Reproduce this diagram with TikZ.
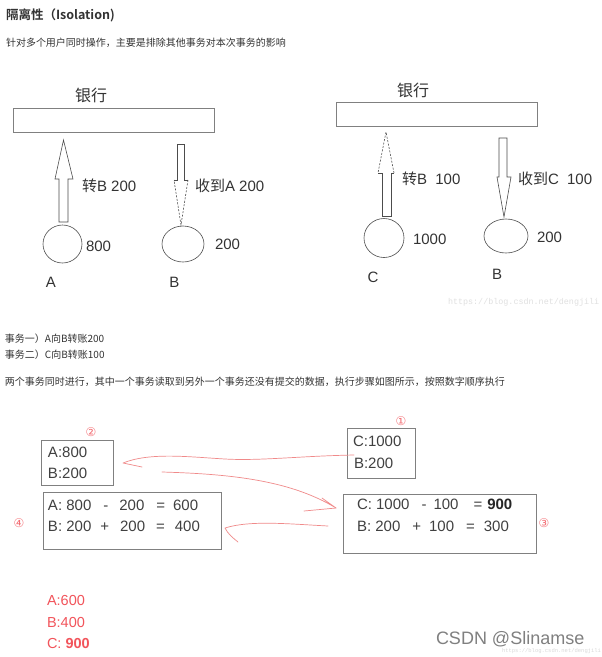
\documentclass[tikz,border=0pt]{standalone}
\usepackage{fontspec}
\setmainfont{Liberation Sans}
\newfontfamily\cjk{Noto Sans CJK SC}[BoldFont={Noto Sans CJK SC Bold}]
\newfontfamily\symf{DejaVu Sans}
\newfontfamily\monof{Liberation Mono}
\usetikzlibrary{shapes.geometric}
\newcommand\fsz[1]{\fontsize{#1}{#1}\selectfont}
\definecolor{txt}{HTML}{333333}
\definecolor{boxtxt}{HTML}{404040}
\definecolor{edge}{HTML}{808080}
\definecolor{redc}{HTML}{F2545B}
\definecolor{redline}{HTML}{F08A8A}
\begin{document}
\begin{tikzpicture}[x=1pt,y=-1pt,
  every node/.style={inner sep=0pt, outer sep=0pt, text=txt},
  lbl/.style={anchor=west},
  frame/.style={draw=edge, line width=0.8pt, anchor=north west},
  blk/.style={draw=black!70, line width=0.6pt},
  dsh/.style={blk, dash pattern=on 2pt off 1.5pt},
  ell/.style={ellipse, draw=black!70, line width=0.6pt},
  redarrow/.style={draw=redline, line width=0.7pt, line cap=round, line join=round},
  circnum/.style={text=redc!85, font=\symf\fsz{12}},
  diag/.style={font=\fsz{15}},
  boxt/.style={anchor=west, text=boxtxt, font=\fsz{15}},
  small/.style={anchor=west, font=\cjk\fsz{10}},
  redt/.style={anchor=west, text=redc, font=\fsz{14.5}}]
\useasboundingbox[fill=white] (0,0) rectangle (602,657);

% heading
\node[lbl, font=\cjk\bfseries\fsz{12.5}] (title) at (6,15) {隔离性（Isolation)};
\node[small] (sub) at (6,43) {针对多个用户同时操作，主要是排除其他事务对本次事务的影响};

% ---------- left bank diagram ----------
\node[lbl, font=\cjk\fsz{16}] (bank1t) at (75,95) {银行};
\node[frame, minimum width=201pt, minimum height=24pt] (bank1) at (13,108) {};
\draw[blk] (59,222) -- (59,179) -- (55,179) -- (63.5,140) -- (73,179) -- (68,179) -- (68,222) -- cycle;
\draw[blk] (174,180) -- (177,180) -- (177,144) -- (184,144) -- (184,180) -- (188,180);
\draw[dsh] (188,180) -- (181,225) -- (174,180);
\node[lbl, diag] (t1) at (82,186) {{\cjk 转}B 200};
\node[lbl, diag] (t2) at (195,186) {{\cjk 收到}A 200};
\node[ell, minimum width=39pt, minimum height=38pt] (ca) at (62.5,244) {};
\node[ell, minimum width=42pt, minimum height=36pt] (cb) at (183,244) {};
\node[lbl, diag] (va) at (86,246) {800};
\node[lbl, diag] (vb) at (215,244) {200};
\node[diag] (na) at (51,282) {A};
\node[diag] (nb) at (174.5,282) {B};

% ---------- right bank diagram ----------
\node[lbl, font=\cjk\fsz{16}] (bank2t) at (397,90) {银行};
\node[frame, minimum width=201pt, minimum height=24pt] (bank2) at (336,102) {};
\draw[blk] (378,173) -- (382,173) -- (382,216) -- (391,216) -- (391,173) -- (394,173);
\draw[dsh] (394,173) -- (386,132) -- (378,173);
\draw[blk] (499,138) -- (507,138) -- (507,177) -- (511,177) -- (504,217) -- (497,177) -- (499,177) -- cycle;
\node[lbl, diag] (t3) at (402,179) {{\cjk 转}B\ \ 100};
\node[lbl, diag] (t4) at (518,179) {{\cjk 收到}C\ \ 100};
\node[ell, minimum width=40pt, minimum height=39pt] (cc) at (384,238) {};
\node[ell, minimum width=44pt, minimum height=34pt] (cb2) at (506,236) {};
\node[lbl, diag] (vc) at (413,239) {1000};
\node[lbl, diag] (vb2) at (537,237) {200};
\node[diag] (nc) at (373,277) {C};
\node[diag] (nb2) at (497,274) {B};
\node[lbl, text=black!12, font=\monof\fsz{8.4}] (wm1) at (448,302) {https://blog.csdn.net/dengjili};

% ---------- text ----------
\node[small] (l1) at (5,339) {事务一）A向B转账200};
\node[small] (l2) at (5,355) {事务二）C向B转账100};
\node[small] (l3) at (5,382) {两个事务同时进行，其中一个事务读取到另外一个事务还没有提交的数据，执行步骤如图所示，按照数字顺序执行};

% ---------- step boxes ----------
\node[frame, minimum width=72pt, minimum height=45pt] (s2) at (41,440) {};
\node[boxt] (s2a) at (48,452) {A:800};
\node[boxt] (s2b) at (48,473) {B:200};

\node[frame, minimum width=178pt, minimum height=57pt] (s4) at (43,492) {};
\node[boxt] (s4a) at (48,505) {A: 800\hspace{12pt}-\hspace{11pt}200\hspace{12pt}=\hspace{8pt}600};
\node[boxt] (s4b) at (48,526) {B: 200\hspace{9pt}+\hspace{11pt}200\hspace{11pt}=\hspace{10pt}400};

\node[frame, minimum width=68pt, minimum height=50pt] (s1) at (347,428) {};
\node[boxt] (s1a) at (353,441) {C:1000};
\node[boxt] (s1b) at (354,463) {B:200};

\node[frame, minimum width=193pt, minimum height=59pt] (s3) at (343,494) {};
\node[boxt] (s3a) at (357,504) {C: 1000\hspace{12pt}-\hspace{7pt}100\hspace{15pt}=\hspace{5pt}{\bfseries\color{black!85}900}};
\node[boxt] (s3b) at (357,526) {B: 200\hspace{12pt}+\hspace{8pt}100\hspace{12pt}=\hspace{9pt}300};

\node[circnum] (n2) at (91,432) {②};
\node[circnum] (n1) at (401,421) {①};
\node[circnum] (n3) at (544,523) {③};
\node[circnum] (n4) at (19,523) {④};

% ---------- red hand-drawn arrows ----------
\coordinate (a1s) at (s1b.west |- 0,455);
\coordinate (a1e) at (123,463);
\draw[redarrow] (a1s) .. controls (300,456) and (260,461) .. (225,459)
  .. controls (190,457) and (150,452) .. (a1e) -- (142,467);
\coordinate (a2s) at (162,472);
\coordinate (a2e) at (336,508);
\draw[redarrow] (a2s) .. controls (230,474) and (290,480) .. (a2e) -- (322,498);
\draw[redarrow] (a2e) -- (304,511);
\coordinate (a3s) at (328,526);
\coordinate (a3e) at (225,528);
\draw[redarrow] (a3s) .. controls (290,524) and (250,520) .. (a3e)
  .. controls (228,534) and (233,538) .. (238,542);

% ---------- results ----------
\node[redt] (r1) at (47,601) {A:600};
\node[redt] (r2) at (47,623) {B:400};
\node[redt] (r3) at (47,643) {C: {\bfseries 900}};

\node[lbl, text=black!50, font=\fsz{18}] (csdn) at (436,639) {CSDN @Slinamse};
\node[lbl, text=black!15, font=\monof\fsz{5.5}] (wm2) at (502,651) {https://blog.csdn.net/dengjili};
\end{tikzpicture}
\end{document}
